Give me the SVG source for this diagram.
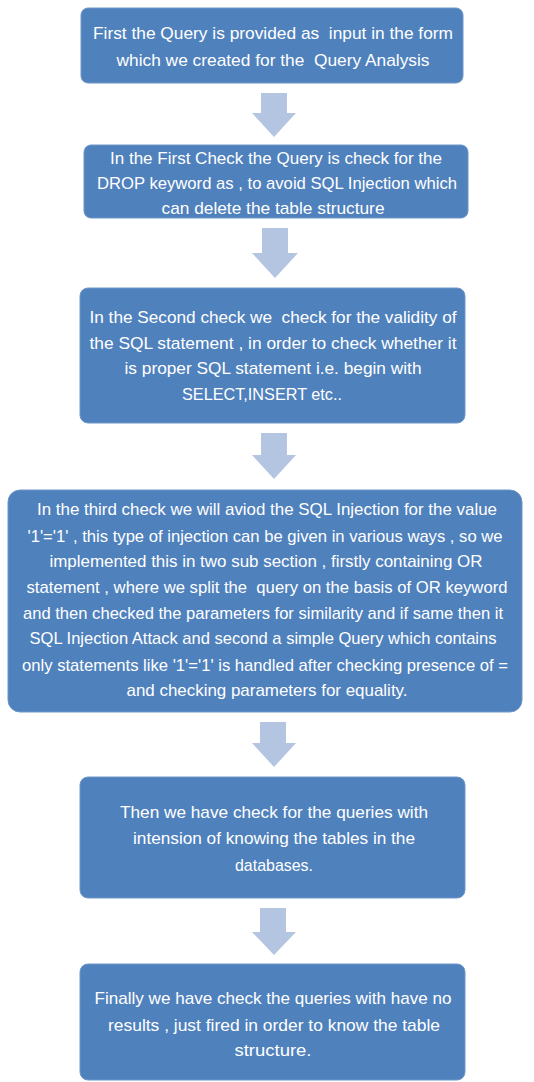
<svg xmlns="http://www.w3.org/2000/svg" width="534" height="1082" viewBox="0 0 534 1082">
<defs>
<style>
.box{fill:#4f81bd;stroke:#6f96c8;stroke-width:1}
.t{font-family:"Liberation Sans",Arial,sans-serif;font-size:17px;fill:#ffffff;text-anchor:middle;white-space:pre}
.arr{fill:#b4c5e1}
</style>
</defs>
<rect width="534" height="1082" fill="#ffffff"/>
<g id="connectors">
<polygon class="arr" points="261,93 287,93 287,113 296,113 274,137 252,113 261,113"/>
<polygon class="arr" points="262,228 288,228 288,253 298,253 275,278 252,253 262,253"/>
<polygon class="arr" points="261,433 287,433 287,455 296,455 274,479 252,455 261,455"/>
<polygon class="arr" points="260,722 286,722 286,743 296,743 274,767 252,743 260,743"/>
<polygon class="arr" points="260,908 286,908 286,932 296,932 274,955 252,932 260,932"/>
</g>
<g id="node1">
<rect class="box" x="81" y="8" width="382" height="75" rx="7"/>
<text class="t" x="273" y="39" textLength="360" lengthAdjust="spacingAndGlyphs" xml:space="preserve">First the Query is provided as  input in the form</text>
<text class="t" x="273" y="66" textLength="313" lengthAdjust="spacingAndGlyphs" xml:space="preserve">which we created for the  Query Analysis</text>
</g>
<g id="node2">
<rect class="box" x="84" y="145" width="384" height="73" rx="7"/>
<text class="t" x="276" y="164" textLength="332" lengthAdjust="spacingAndGlyphs">In the First Check the Query is check for the</text>
<text class="t" x="277" y="189" textLength="360" lengthAdjust="spacingAndGlyphs">DROP keyword as , to avoid SQL Injection which</text>
<text class="t" x="273" y="214" textLength="223" lengthAdjust="spacingAndGlyphs">can delete the table structure</text>
</g>
<g id="node3">
<rect class="box" x="80" y="288" width="385" height="135" rx="8"/>
<text class="t" x="273" y="323" textLength="367" lengthAdjust="spacingAndGlyphs" xml:space="preserve">In the Second check we  check for the validity of</text>
<text class="t" x="273" y="349" textLength="367" lengthAdjust="spacingAndGlyphs">the SQL statement , in order to check whether it</text>
<text class="t" x="273" y="374" textLength="297" lengthAdjust="spacingAndGlyphs">is proper SQL statement i.e. begin with</text>
<text class="t" x="262" y="400" textLength="160" lengthAdjust="spacingAndGlyphs">SELECT,INSERT etc..</text>
</g>
<g id="node4">
<rect class="box" x="8" y="490" width="514" height="222" rx="12"/>
<text class="t" x="267" y="515" textLength="460" lengthAdjust="spacingAndGlyphs">In the third check we will aviod the SQL Injection for the value</text>
<text class="t" x="265" y="542" textLength="475" lengthAdjust="spacingAndGlyphs">'1'='1' , this type of injection can be given in various ways , so we</text>
<text class="t" x="266" y="567" textLength="433" lengthAdjust="spacingAndGlyphs">implemented this in two sub section , firstly containing OR</text>
<text class="t" x="267" y="593" textLength="481" lengthAdjust="spacingAndGlyphs" xml:space="preserve">statement , where we split the  query on the basis of OR keyword</text>
<text class="t" x="263" y="619" textLength="480" lengthAdjust="spacingAndGlyphs">and then checked the parameters for similarity and if same then it</text>
<text class="t" x="263" y="644" textLength="467" lengthAdjust="spacingAndGlyphs">SQL Injection Attack and second a simple Query which contains</text>
<text class="t" x="265" y="671" textLength="486" lengthAdjust="spacingAndGlyphs">only statements like '1'='1' is handled after checking presence of =</text>
<text class="t" x="267" y="696" textLength="281" lengthAdjust="spacingAndGlyphs">and checking parameters for equality.</text>
</g>
<g id="node5">
<rect class="box" x="80" y="777" width="385" height="121" rx="8"/>
<text class="t" x="274" y="818" textLength="308" lengthAdjust="spacingAndGlyphs">Then we have check for the queries with</text>
<text class="t" x="274" y="844" textLength="282" lengthAdjust="spacingAndGlyphs">intension of knowing the tables in the</text>
<text class="t" x="274" y="871" textLength="78" lengthAdjust="spacingAndGlyphs">databases.</text>
</g>
<g id="node6">
<rect class="box" x="80" y="964" width="385" height="116" rx="8"/>
<text class="t" x="273" y="1004" textLength="357" lengthAdjust="spacingAndGlyphs">Finally we have check the queries with have no</text>
<text class="t" x="274" y="1031" textLength="332" lengthAdjust="spacingAndGlyphs">results , just fired in order to know the table</text>
<text class="t" x="273" y="1056" textLength="77" lengthAdjust="spacingAndGlyphs">structure.</text>
</g>
</svg>
